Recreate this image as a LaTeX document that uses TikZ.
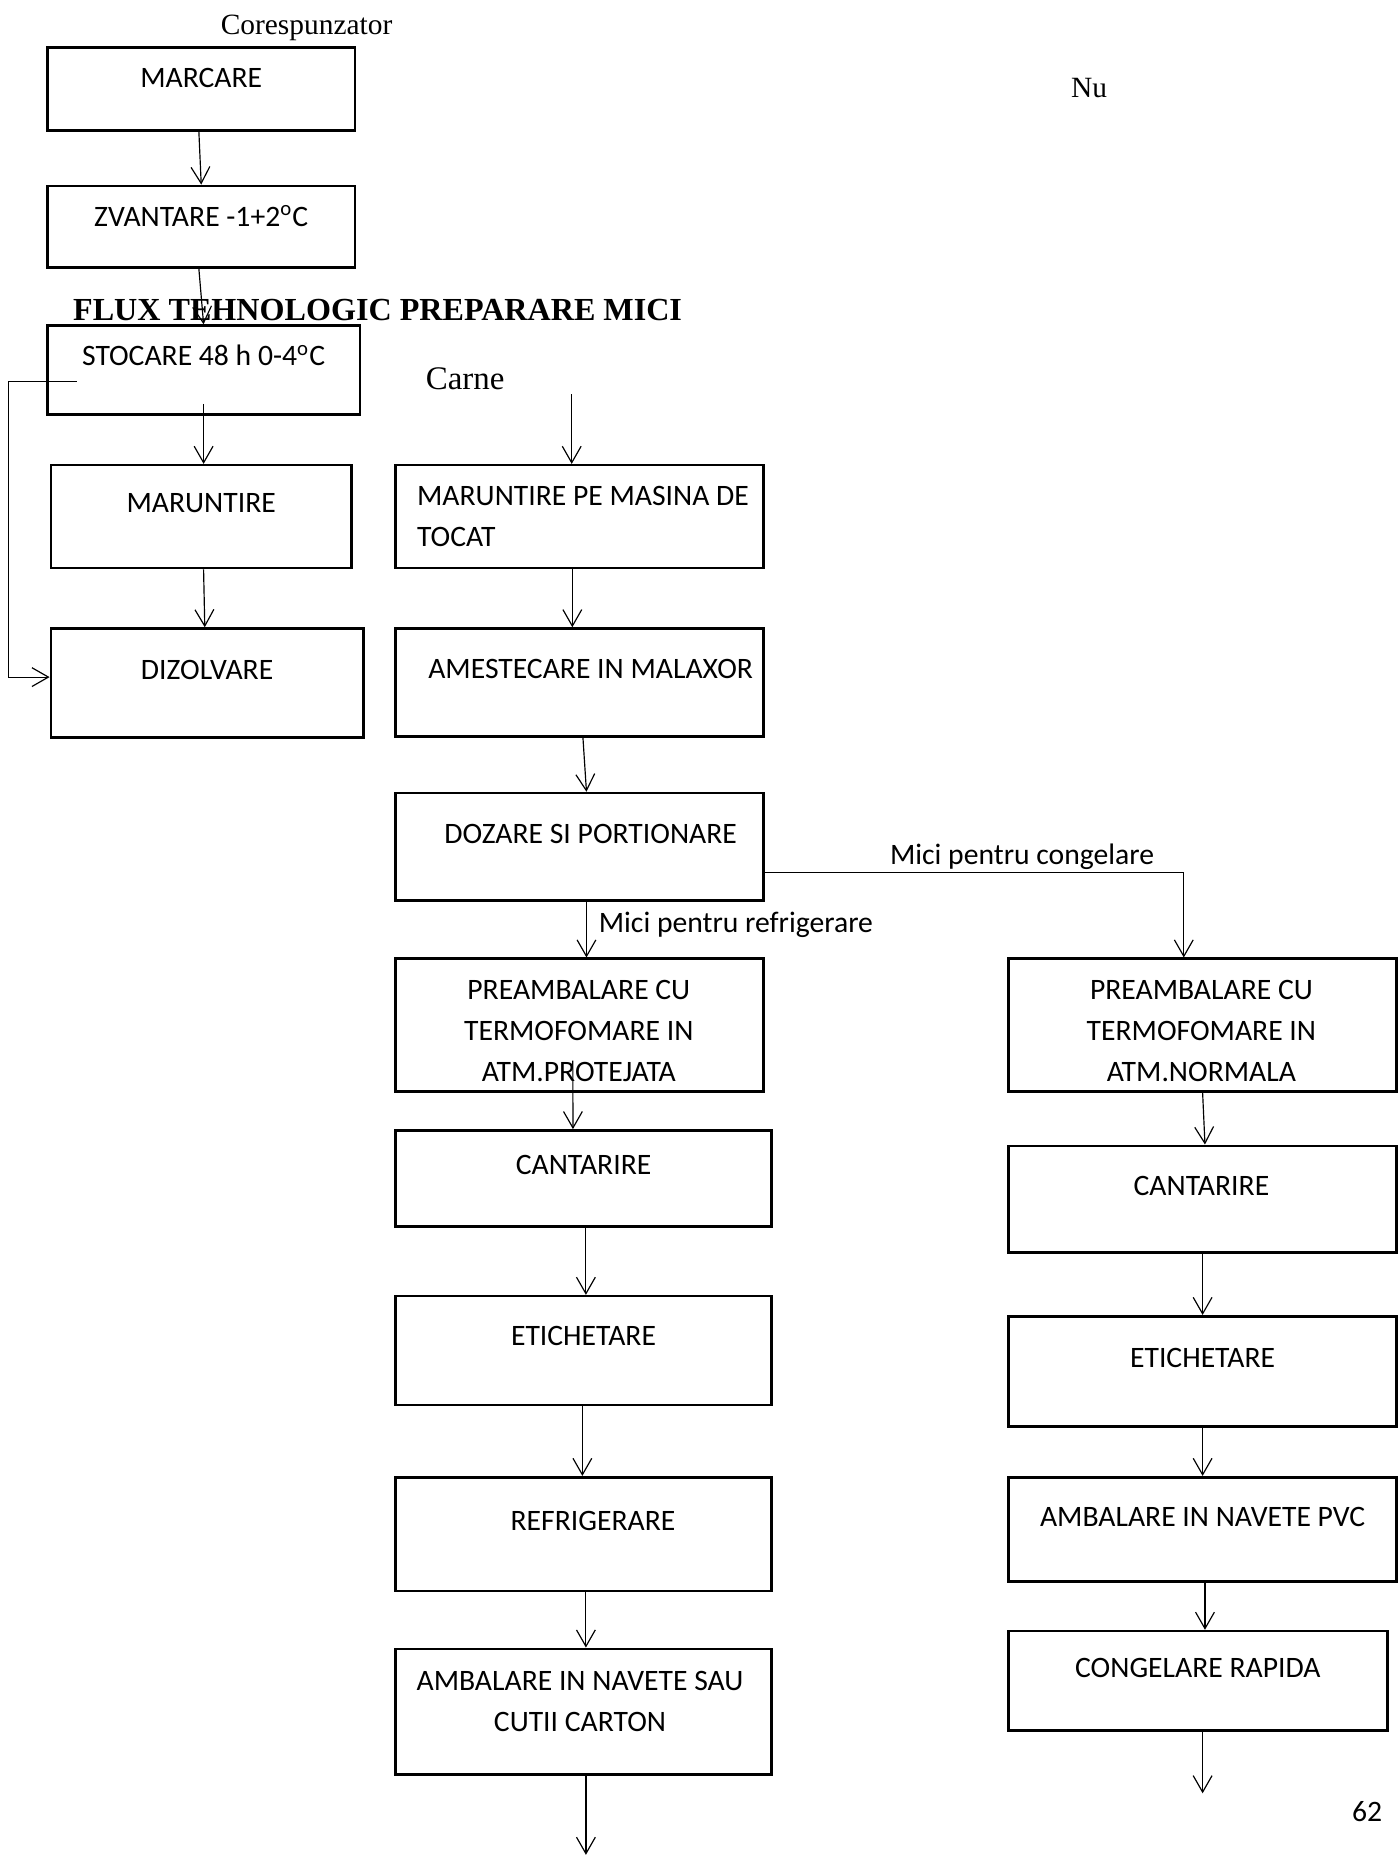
\documentclass[tikz,border=0pt]{standalone}
\usepackage{fontspec}
\setmainfont{Liberation Serif}
\newfontfamily\calibri{Carlito}
\usetikzlibrary{positioning}
\usetikzlibrary{fit}
\usetikzlibrary{arrows.meta}

\tikzset{
  stage/.style={draw,line width=1.1pt,inner sep=0pt},
  stagetext/.style={font=\calibri\fontsize{12.6}{17.6}\selectfont,align=center,inner sep=0pt,anchor=base},
  flow/.style={line width=0.5pt,-{Straight Barb[length=7pt,width=8pt]}},
  note/.style={font=\calibri\fontsize{12.6}{14}\selectfont,inner sep=0pt,anchor=base},
  serifnote/.style={font=\fontsize{12.5}{14}\selectfont,inner sep=0pt,anchor=base}
}

\begin{document}
\begin{tikzpicture}[x=0.503pt,y=-0.503pt]
 \useasboundingbox (0,0) rectangle (1182,1568);
 % texte libere
 \node[serifnote] (coresp) at (259,29) {Corespunzator};
 \node[serifnote] (nu) at (920,82) {Nu};
 \node[serifnote,font=\bfseries\fontsize{13.65}{16}\selectfont] (titlu) at (319,271) {FLUX TEHNOLOGIC PREPARARE MICI};
 \node[serifnote,font=\fontsize{14}{16}\selectfont] (carne) at (393,329) {Carne};
 \node[note] (pagina) at (1155,1539) {62};
 % coloana din stanga
 \node[stage,fit={(40,40) (300,110)}] (marcare) {};
 \node[stage,fit={(40,157) (300,226)}] (zvantare) {};
 \node[stage,fit={(40,275) (304,350)}] (stocare) {};
 \node[stage,fit={(43,393) (297,480)}] (maruntire) {};
 \node[stage,fit={(43,531) (307,623)}] (dizolvare) {};
 \node[stagetext] (marcaret) at (170,74) {MARCARE};
 \node[stagetext] (zvantaret) at (170,191) {ZVANTARE -1+2\textsuperscript{o}C};
 \node[stagetext] (stocaret) at (172,309) {STOCARE 48 h 0-4\textsuperscript{o}C};
 \node[stagetext] (maruntiret) at (170,433) {MARUNTIRE};
 \node[stagetext] (dizolvaret) at (175,574) {DIZOLVARE};
 % coloana din mijloc
 \node[stage,fit={(334,393) (645,480)}] (tocare) {};
 \node[stage,fit={(334,531) (645,622)}] (malaxare) {};
 \node[stage,fit={(334,670) (645,761)}] (dozare) {};
 \node[stage,fit={(334,810) (645,922)}] (prerefrig) {};
 \node[stage,fit={(334,955) (652,1036)}] (cantref) {};
 \node[stage,fit={(334,1095) (652,1187)}] (etref) {};
 \node[stage,fit={(334,1248) (652,1344)}] (refrig) {};
 \node[stage,fit={(334,1393) (652,1499)}] (ambref) {};
 \node[stagetext,align=left,anchor=base west] (tocaret) at (352,462) {MARUNTIRE PE MASINA DE\\TOCAT};
 \node[stagetext] (malaxaret) at (499,573) {AMESTECARE IN MALAXOR};
 \node[stagetext] (dozaret) at (499,713) {DOZARE SI PORTIONARE};
 \node[stagetext] (prerefrigt) at (489,914) {PREAMBALARE CU\\TERMOFOMARE IN\\ATM.PROTEJATA};
 \node[stagetext] (cantreft) at (493,992) {CANTARIRE};
 \node[stagetext] (etreft) at (493,1137) {ETICHETARE};
 \node[stagetext] (refrigt) at (501,1293) {REFRIGERARE};
 \node[stagetext] (ambreft) at (490,1463) {AMBALARE IN NAVETE SAU\\CUTII CARTON};
 % coloana din dreapta
 \node[stage,fit={(852,810) (1180,922)}] (precong) {};
 \node[stage,fit={(852,968) (1180,1058)}] (cantcong) {};
 \node[stage,fit={(852,1112) (1180,1205)}] (etcong) {};
 \node[stage,fit={(852,1248) (1180,1336)}] (ambcong) {};
 \node[stage,fit={(852,1378) (1172,1462)}] (congel) {};
 \node[stagetext] (precongt) at (1015,914) {PREAMBALARE CU\\TERMOFOMARE IN\\ATM.NORMALA};
 \node[stagetext] (cantcongt) at (1015,1010) {CANTARIRE};
 \node[stagetext] (etcongt) at (1016,1155) {ETICHETARE};
 \node[stagetext] (ambcongt) at (1016,1290) {AMBALARE IN NAVETE PVC};
 \node[stagetext] (congelt) at (1012,1417) {CONGELARE RAPIDA};
 % sageti stanga
 \draw[flow] ([xshift=-1pt]marcare.south) -- (zvantare.north);
 \draw[flow] ([xshift=-1pt]zvantare.south) -- (stocare.north);
 \draw[flow] ([yshift=5pt]stocare.south) -- (stocare.south |- maruntire.north);
 \draw[flow] ([xshift=1pt]maruntire.south) -- ([xshift=-1pt]dizolvare.north);
 \coordinate (bucla) at (65,322);
 \draw[flow] (bucla) -- ++(-58,0) |- ([yshift=2.5pt]dizolvare.west);
 % sageti mijloc
 \coordinate (carnein) at (483,333);
 \draw[flow] (carnein) -- (tocare.north -| carnein);
 \draw[flow] ([xshift=-3pt]tocare.south) -- ([xshift=-3pt]malaxare.north);
 \draw[flow] ([xshift=1.5pt]malaxare.south) -- ([xshift=3pt]dozare.north);
 \draw[flow] ([xshift=3pt]dozare.south) -- node[note,anchor=base west,xshift=5pt,yshift=-1pt] (refriglbl) {Mici pentru refrigerare} ([xshift=3pt]prerefrig.north);
 \draw[flow] ([xshift=-2.8pt,yshift=13.6pt]prerefrig.south) -- ([xshift=-4.5pt]cantref.north);
 \draw[flow] ([xshift=1pt]cantref.south) -- ([xshift=1pt]etref.north);
 \draw[flow] ([xshift=-0.5pt]etref.south) -- ([xshift=-0.5pt]refrig.north);
 \draw[flow] ([xshift=1pt]refrig.south) -- ([xshift=1pt]ambref.north);
 \coordinate (refout) at (495,1567);
 \draw[flow] (ambref.south -| refout) -- (refout);
 % ramura congelare
 \draw[flow] ([yshift=-10.8pt]dozare.east) -| node[note,pos=0.307,anchor=base,yshift=3.5pt] (conglbl) {Mici pentru congelare} ([xshift=-8pt]precong.north);
 % sageti dreapta
 \draw[flow] (precong.south) -- ([xshift=1pt]cantcong.north);
 \draw[flow] (cantcong.south) -- (etcong.north);
 \draw[flow] (etcong.south) -- (ambcong.north);
 \draw[flow] ([xshift=1pt]ambcong.south) -- ([xshift=1pt]ambcong.south |- congel.north);
 \coordinate (congout) at (1016,1515);
 \draw[flow] (congel.south -| congout) -- (congout);
\end{tikzpicture}
\end{document}
